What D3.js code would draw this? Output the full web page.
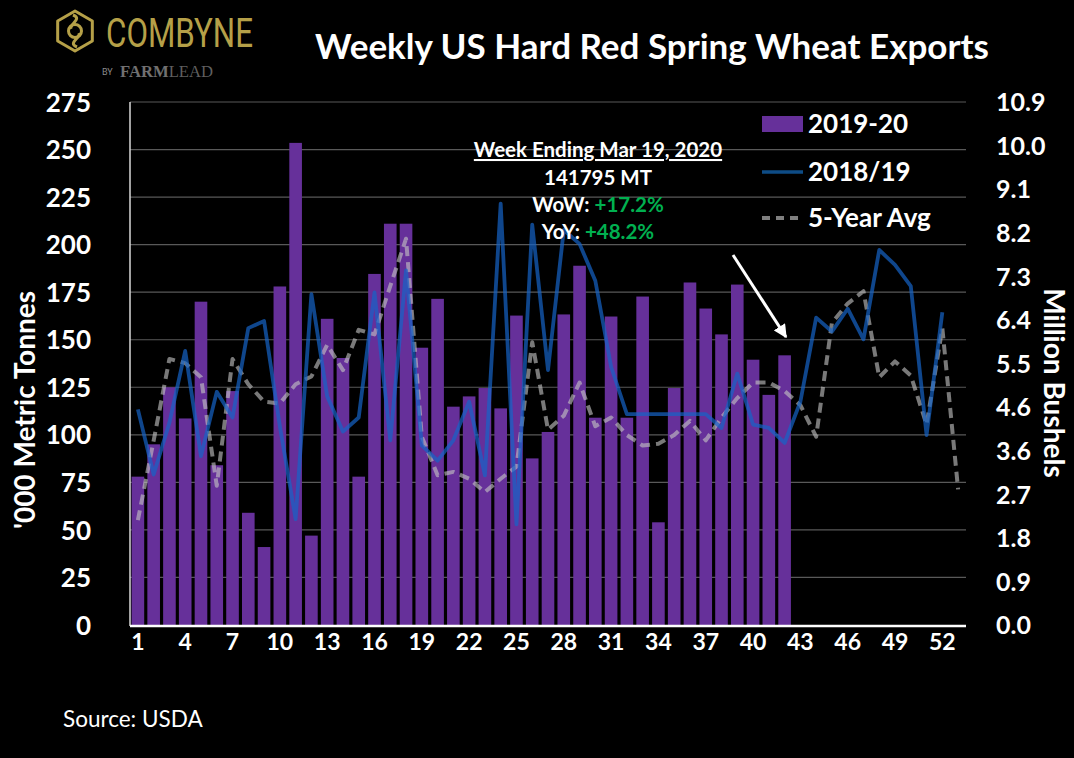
<!DOCTYPE html>
<html>
<head>
<meta charset="utf-8">
<script src="https://cdn.jsdelivr.net/npm/d3@7"></script>
<style>
  html, body { margin: 0; padding: 0; background: #000; }
  svg { display: block; }
</style>
</head>
<body>
<svg id="chart" width="1074" height="758"></svg>
<script>
// ---------- DATA ----------
const weeks = [1,2,3,4,5,6,7,8,9,10,11,12,13,14,15,16,17,18,19,20,21,22,23,24,25,26,27,28,29,30,31,32,33,34,35,36,37,38,39,40,41,42,43,44,45,46,47,48,49,50,51,52,53];
const tickWeeks = [1,4,7,10,13,16,19,22,25,28,31,34,37,40,43,46,49,52];
// 2019-20 weekly exports ('000 MT), weeks 1-42
const exports2019_20 = [78,95,125,108.6,170,84,123,59,41,178,253.5,47,161,140.4,78,184.6,211,211,145.8,171.5,114.8,120.2,124.6,113.9,162.7,87.6,101.5,163.3,188.9,109,162.2,109,172.7,54,124.6,180.1,166.4,152.8,179,139.5,121,141.8];
// 2018/19 weekly exports ('000 MT), weeks 1-52
const exports2018_19 = [113.4,79.1,106.4,144.1,88.8,122.6,109.1,156.1,159.8,104.5,55.7,174,120.2,101.7,109.1,174.9,97.1,186.5,94.4,86.4,97.1,117.4,78.7,221.6,52.9,210.5,134,207.7,200.4,181,135.8,110.9,110.9,110.9,110.9,110.9,110.9,103.6,132.2,105.4,103.6,95.7,117.4,161.6,154.3,166.3,150.2,197.2,189.3,178.2,99.9,164.4];
// 5-year average ('000 MT), weeks 1-53
const fiveYearAvg = [55.1,97,139.9,137.7,130.3,73.2,139.9,126.6,117.4,116.5,126.6,130.7,147.3,134,155.2,152.8,178.2,203.1,99,78.7,80.5,76.9,69.9,76.9,83.3,148.7,102.7,110,127.5,104.5,109.1,99.9,94.4,95.3,99.9,107.3,97.1,109.1,119.3,127.5,127.5,123,115.6,99,158.9,169,175.5,130.3,138.6,131.2,105.4,156.1,71.3];
const leftTicks = [0,25,50,75,100,125,150,175,200,225,250,275];
const rightTickLabels = ["0.0","0.9","1.8","2.7","3.6","4.6","5.5","6.4","7.3","8.2","9.1","10.0","10.9"];
const legendLabels = ["2019-20","2018/19","5-Year Avg"];

// ---------- LAYOUT ----------
const FONT = "Lato, 'Open Sans', sans-serif";
const plot = {left: 130, right: 966, top: 102, bottom: 625};
const svg = d3.select("#chart");
svg.append("rect").attr("width",1074).attr("height",758).attr("fill","#000");

const x = d3.scaleBand().domain(weeks).range([plot.left, plot.right]).paddingInner(0.2).paddingOuter(0.1);
const y = d3.scaleLinear().domain([0,275]).range([plot.bottom, plot.top]);
// right axis: labels evenly spread over the same height
const yR = d3.scaleLinear().domain([0, rightTickLabels.length - 1]).range([plot.bottom, plot.top]);
const cx = w => x(w) + x.bandwidth()/2;

// gridlines
svg.append("g").selectAll("line").data(leftTicks.filter(d => d>0)).join("line")
  .attr("x1", plot.left).attr("x2", plot.right)
  .attr("y1", d => y(d)).attr("y2", d => y(d))
  .attr("stroke", "#595959").attr("stroke-width", 1.2);

// bars
svg.append("g").selectAll("rect").data(exports2019_20).join("rect")
  .attr("x", (d,i) => x(weeks[i]))
  .attr("width", x.bandwidth())
  .attr("y", d => y(d))
  .attr("height", d => y(0) - y(d))
  .attr("fill", "#66309a");

// 5-year avg line (dashed)
const line = d3.line().x(d => cx(d.w)).y(d => y(d.v));
svg.append("path")
  .datum(fiveYearAvg.map((v,i) => ({w: weeks[i], v})))
  .attr("d", line)
  .attr("fill","none")
  .attr("stroke","#c4c4c4")
  .attr("stroke-opacity",0.62)
  .attr("stroke-width",4)
  .attr("stroke-dasharray","10,6")
  .attr("stroke-linejoin","round");

// 2018/19 line
svg.append("path")
  .datum(exports2018_19.map((v,i) => ({w: weeks[i], v})))
  .attr("d", line)
  .attr("fill","none")
  .attr("stroke","#1664c8")
  .attr("stroke-opacity",0.7)
  .attr("stroke-width",3.8)
  .attr("stroke-linejoin","round");

// axis lines
svg.append("line").attr("x1",plot.left).attr("x2",plot.left).attr("y1",plot.top).attr("y2",plot.bottom+1)
  .attr("stroke","#d9d9d9").attr("stroke-width",1.5);
svg.append("line").attr("x1",plot.left).attr("x2",plot.right).attr("y1",plot.bottom+1).attr("y2",plot.bottom+1)
  .attr("stroke","#ffffff").attr("stroke-width",2.5);

// left axis
const yAxisL = d3.axisLeft(y).tickValues(leftTicks).tickSize(0).tickPadding(0);
const gL = svg.append("g").attr("transform",`translate(91,0)`).call(yAxisL);
gL.select(".domain").remove();
gL.selectAll("text").attr("fill","#fff").attr("font-family",FONT).attr("font-weight","bold").attr("font-size",26).attr("dy","0.35em");

// right axis
const yAxisR = d3.axisRight(yR).tickValues(d3.range(rightTickLabels.length)).tickSize(0).tickPadding(0)
  .tickFormat((d,i) => rightTickLabels[i]);
const gR = svg.append("g").attr("transform",`translate(996,0)`).call(yAxisR);
gR.select(".domain").remove();
gR.selectAll("text").attr("fill","#fff").attr("font-family",FONT).attr("font-weight","bold").attr("font-size",25).attr("dy","0.35em");

// x axis
const xAxis = d3.axisBottom(x).tickValues(tickWeeks).tickSize(0).tickPadding(0);
const gX = svg.append("g").attr("transform",`translate(0,${plot.bottom + 9})`).call(xAxis);
gX.select(".domain").remove();
gX.selectAll("text").attr("fill","#fff").attr("font-family",FONT).attr("font-weight","bold").attr("font-size",23).attr("dy","0.71em");

// axis titles
svg.append("text").attr("transform","translate(35,410) rotate(-90)").attr("text-anchor","middle")
  .attr("fill","#fff").attr("font-family",FONT).attr("font-weight","bold").attr("font-size",28)
  .text("'000 Metric Tonnes");
svg.append("text").attr("transform","translate(1044,383) rotate(90)").attr("text-anchor","middle")
  .attr("fill","#fff").attr("font-family",FONT).attr("font-weight","bold").attr("font-size",28)
  .text("Million Bushels");

// title
svg.append("text").attr("x",652).attr("y",59).attr("text-anchor","middle")
  .attr("fill","#fff").attr("font-family",FONT).attr("font-weight","bold").attr("font-size",35)
  .text("Weekly US Hard Red Spring Wheat Exports");

// legend
const lg = svg.append("g");
const ly = [124, 172, 218];
lg.append("rect").attr("x",762).attr("y",ly[0]-8).attr("width",41).attr("height",16).attr("fill","#66309a");
lg.append("line").attr("x1",762).attr("x2",803).attr("y1",ly[1]).attr("y2",ly[1]).attr("stroke","#0e4c86").attr("stroke-width",3.5);
lg.append("line").attr("x1",762).attr("x2",803).attr("y1",ly[2]).attr("y2",ly[2]).attr("stroke","#7f7f7f").attr("stroke-width",4).attr("stroke-dasharray","8,6");
lg.selectAll("text").data(legendLabels).join("text")
  .attr("x",808).attr("y",(d,i) => ly[i]).attr("dy","0.35em")
  .attr("fill","#fff").attr("font-family",FONT).attr("font-weight","bold").attr("font-size",26)
  .text(d => d);

// annotation
const ann = svg.append("g").attr("font-family",FONT).attr("font-weight","bold").attr("font-size",20.5).attr("fill","#fff").attr("text-anchor","middle");
ann.append("text").attr("x",598).attr("y",157).attr("text-decoration","underline").text("Week Ending Mar 19, 2020");
ann.append("text").attr("x",598).attr("y",185).text("141795 MT");
const t3 = ann.append("text").attr("x",598).attr("y",212);
t3.append("tspan").text("WoW: ");
t3.append("tspan").attr("fill","#00b050").text("+17.2%");
const t4 = ann.append("text").attr("x",598).attr("y",239);
t4.append("tspan").text("YoY: ");
t4.append("tspan").attr("fill","#00b050").text("+48.2%");

// arrow
svg.append("defs").append("marker").attr("id","ah").attr("viewBox","0 0 10 10").attr("refX",9).attr("refY",5)
  .attr("markerWidth",4.5).attr("markerHeight",4.5).attr("orient","auto")
  .append("path").attr("d","M0,0 L10,5 L0,10 Z").attr("fill","#fff");
svg.append("line").attr("x1",733).attr("y1",255).attr("x2",786).attr("y2",337)
  .attr("stroke","#fff").attr("stroke-width",3).attr("marker-end","url(#ah)");

// source
svg.append("text").attr("x",63).attr("y",727).attr("fill","#fff").attr("font-family",FONT).attr("font-size",22.5)
  .text("Source: USDA");

// logo
const logo = svg.append("g");
const gold = "#b5a048";
const hex = d3.range(6).map(i => { const a = Math.PI/3*i - Math.PI/2; return [75 + 20*Math.cos(a), 31 + 20*Math.sin(a)]; });
logo.append("path").attr("d", "M" + hex.join("L") + "Z").attr("fill","none").attr("stroke",gold).attr("stroke-width",3).attr("stroke-linejoin","round");
logo.append("path").attr("d","M73,15 C83,19 69,24 71,29 M79,33 C81,38 67,43 77,47").attr("fill","none").attr("stroke",gold).attr("stroke-width",3);
logo.append("circle").attr("cx",75).attr("cy",31).attr("r",6.5).attr("fill","none").attr("stroke",gold).attr("stroke-width",3);
logo.append("text").attr("x",106).attr("y",47).attr("fill",gold).attr("font-family","Roboto, sans-serif").attr("font-weight",400)
  .attr("font-size",40).attr("textLength",147).attr("lengthAdjust","spacingAndGlyphs").text("COMBYNE");
logo.append("text").attr("x",102).attr("y",75).attr("fill","#8a8a8a").attr("font-family","Roboto, sans-serif").attr("font-size",9).text("BY");
const fl = logo.append("text").attr("x",120).attr("y",77).attr("font-family","'Liberation Serif', serif")
  .attr("font-size",17).attr("textLength",93).attr("lengthAdjust","spacingAndGlyphs");
fl.append("tspan").attr("fill","#707070").attr("font-weight","bold").text("FARM");
fl.append("tspan").attr("fill","#5f5f5f").text("LEAD");
</script>
</body>
</html>
